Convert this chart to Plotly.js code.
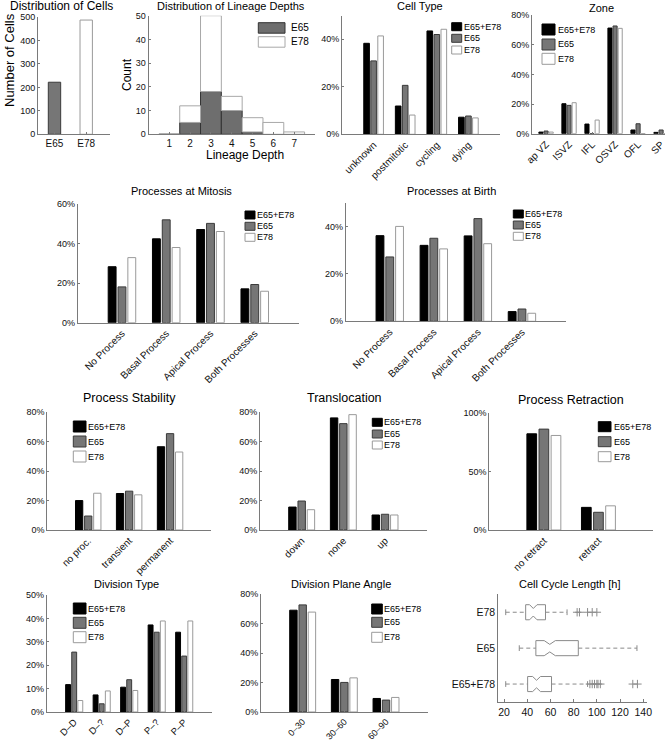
<!DOCTYPE html>
<html><head><meta charset="utf-8">
<script src="https://cdn.plot.ly/plotly-3.0.1.min.js"></script>
<style>html,body{margin:0;padding:0;background:#fff}#chart{width:667px;height:743px}</style>
</head><body><div id="chart"></div>
<script>
// ---------------- DATA ----------------
const seriesNames = ['E65+E78', 'E65', 'E78'];

const cellGroups = ['E65', 'E78'];
const cellCounts = [222, 487];

const depthBins = [1, 2, 3, 4, 5, 6, 7];
const depthE65 = [0, 5, 18, 10, 1, 0, 0];
const depthE78 = [0, 7, 32, 6, 6, 5, 1];

const cellTypeCats = ['unknown', 'postmitotic', 'cycling', 'dying'];
const cellTypeAll = [38.3, 11.9, 43.5, 7.2];
const cellTypeE65 = [30.9, 20.6, 42.0, 7.7];
const cellTypeE78 = [41.4, 8.1, 44.2, 6.9];

const zoneCats = ['ap VZ', 'ISVZ', 'IFL', 'OSVZ', 'OFL', 'SP'];
const zoneAll = [1.1, 20.2, 6.5, 71.2, 2.5, 0.9];
const zoneE65 = [1.8, 19.1, 0, 72.6, 6.7, 2.5];
const zoneE78 = [1.1, 20.9, 9.2, 71.0, 0, 0];

const mitosisCats = ['No Process', 'Basal Process', 'Apical Process', 'Both Processes'];
const mitosisAll = [28.3, 42.4, 47.1, 17.1];
const mitosisE65 = [18.1, 52.0, 50.2, 19.3];
const mitosisE78 = [32.9, 38.0, 46.1, 15.9];

const birthCats = ['No Process', 'Basal Process', 'Apical Process', 'Both Processes'];
const birthAll = [36.2, 32.1, 36.1, 4.1];
const birthE65 = [27.2, 35.1, 43.4, 5.2];
const birthE78 = [40.1, 30.6, 32.8, 3.4];

const stabilityCats = ['no proc.', 'transient', 'permanent'];
const stabilityAll = [20.0, 24.8, 56.6];
const stabilityE65 = [9.5, 26.4, 65.5];
const stabilityE78 = [25.0, 23.9, 53.0];

const translocCats = ['down', 'none', 'up'];
const translocAll = [15.6, 76.2, 10.2];
const translocE65 = [19.7, 72.3, 10.7];
const translocE78 = [13.8, 78.4, 10.2];

const retractCats = ['no retract', 'retract'];
const retractAll = [82.0, 19.3];
const retractE65 = [86.0, 15.1];
const retractE78 = [80.6, 20.6];

const divTypeCats = ['D\u2013D', 'D\u2013?', 'D\u2013P', 'P\u2013?', 'P\u2013P'];
const divTypeAll = [11.7, 7.3, 10.6, 37.2, 34.1];
const divTypeE65 = [25.6, 3.5, 13.8, 34.1, 23.9];
const divTypeE78 = [4.9, 9.0, 9.2, 38.9, 38.9];

const planeCats = ['0\u201330', '30\u201360', '60\u201390'];
const planeAll = [69.2, 22.1, 9.2];
const planeE65 = [72.8, 20.1, 8.1];
const planeE78 = [67.9, 23.2, 9.9];

// cell cycle box plot, bottom to top
const cycleGroups = ['E65+E78', 'E65', 'E78'];
const cycleLowWhisker = [21.4, 33.1, 21.4];
const cycleQ1 = [40.3, 47.4, 38.6];
const cycleMedian = [48.0, 59.4, 45.2];
const cycleQ3 = [60.9, 84.0, 55.7];
const cycleHighWhisker = [92.0, 134.6, 74.3];
const cycleNotchLow = [44.6, 54.6, 42.0];
const cycleNotchHigh = [51.4, 64.2, 48.4];
const cycleOutliers = [[94, 96, 98, 100, 101, 103, 131, 135], [], [83, 85, 92, 96, 100]];

// ---------------- LAYOUT HELPERS ----------------
const W = 667, H = 743;
const fx = p => p / W, fy = p => 1 - p / H;
const FONT = 'Liberation Sans, Arial, Helvetica, sans-serif';
const AX = '#7a7a7a';
const FILL = ['#000000', '#767676', '#ffffff'];
const EDGE = ['#000000', '#3a3a3a', '#9a9a9a'];
const BW = 0.178, OFFS = [-0.222, 0, 0.222];

const traces = [];
const layout = {
  width: W, height: H, margin: {l: 0, r: 0, t: 0, b: 0},
  barmode: 'overlay', showlegend: false, hovermode: false,
  paper_bgcolor: '#fff', plot_bgcolor: 'rgba(0,0,0,0)',
  font: {family: FONT, size: 9, color: '#111'},
  annotations: [], shapes: []
};
let axN = 0;
function addAxes(dom, xopt, yopt) {
  axN++;
  const xs = axN === 1 ? 'xaxis' : 'xaxis' + axN, ys = axN === 1 ? 'yaxis' : 'yaxis' + axN;
  const xr = axN === 1 ? 'x' : 'x' + axN, yr = axN === 1 ? 'y' : 'y' + axN;
  const base = {showline: true, linecolor: AX, linewidth: 1, ticks: 'inside', ticklen: 2,
    tickcolor: AX, showgrid: false, zeroline: false, fixedrange: true, tickfont: {size: 9, color: '#111'}};
  layout[xs] = Object.assign({}, base, {domain: [fx(dom.x[0]), fx(dom.x[1])], anchor: yr}, xopt);
  layout[ys] = Object.assign({}, base, {domain: [fy(dom.y[1]), fy(dom.y[0])], anchor: xr}, yopt);
  return {x: xr, y: yr};
}
function label(text, cx, cy, size, angle) {
  layout.annotations.push({xref: 'paper', yref: 'paper', x: fx(cx), y: fy(cy), text: text,
    showarrow: false, xanchor: 'center', yanchor: 'middle', textangle: angle || 0,
    font: {size: size || 11, color: '#000'}});
}
function legend(l, names, fills, edges) {
  names.forEach((name, s) => {
    layout.shapes.push({type: 'rect', xref: 'paper', yref: 'paper', x0: fx(l.x0), x1: fx(l.x1),
      y0: fy(l.tops[s] + l.h), y1: fy(l.tops[s]), fillcolor: fills[s], line: {color: edges[s], width: 1}});
    layout.annotations.push({xref: 'paper', yref: 'paper', x: fx(l.tx), y: fy(l.tops[s] + l.h / 2),
      xanchor: 'left', yanchor: 'middle', text: name, showarrow: false, borderpad: 0,
      font: {size: l.size || 9, color: '#000'}});
  });
}
function grouped(dom, cats, series, yRange, yTicks, tl, lg, opt) {
  opt = opt || {};
  const xs = cats.map((c, i) => i + 1);
  const ax = addAxes(dom,
    {range: opt.xRange || [0, cats.length + 1], tickvals: xs, ticktext: cats, tickangle: -45,
     tickfont: {size: opt.tickSize || 10, color: '#111'}},
    {range: yRange, tickvals: yTicks, ticktext: yTicks.map(v => v + '%')});
  series.forEach((vals, s) => {
    traces.push({type: 'bar', x: xs, y: vals, xaxis: ax.x, yaxis: ax.y, width: BW,
      offset: OFFS[s] - BW / 2, name: seriesNames[s],
      marker: {color: FILL[s], line: {color: EDGE[s], width: 1}}});
  });
  label(tl.text, tl.cx, tl.cy, tl.size);
  legend(lg, seriesNames, FILL, EDGE);
}

// ---------------- PANELS ----------------
// Distribution of Cells
(function () {
  const xs = cellGroups.map((c, i) => i + 1);
  const ax = addAxes({x: [38, 110], y: [17, 134.3]},
    {range: [0.48, 2.75], tickvals: xs, ticktext: cellGroups, tickfont: {size: 10, color: '#111'}},
    {range: [0, 500], tickvals: [0, 100, 200, 300, 400, 500], tickfont: {size: 9, color: '#111'}});
  traces.push({type: 'bar', x: xs, y: cellCounts, xaxis: ax.x, yaxis: ax.y, width: 0.39,
    marker: {color: [FILL[1], FILL[2]], line: {color: [EDGE[1], EDGE[2]], width: 1}}});
  label('Distribution of Cells', 61, 6.5, 12);
  label('Number of Cells', 9, 60, 13, -90);
})();

// Distribution of Lineage Depths (stacked)
(function () {
  const ax = addAxes({x: [148.5, 315], y: [15.7, 134.3]},
    {range: [0, 8], tickvals: depthBins, tickfont: {size: 10, color: '#111'}},
    {range: [0, 50], tickvals: [0, 10, 20, 30, 40, 50], tickfont: {size: 9, color: '#111'}});
  traces.push({type: 'bar', x: depthBins, y: depthE65, xaxis: ax.x, yaxis: ax.y, width: 1, name: 'E65',
    marker: {color: '#6e6e6e', line: {color: '#333', width: 1}}});
  traces.push({type: 'bar', x: depthBins, y: depthE78, base: depthE65, xaxis: ax.x, yaxis: ax.y, width: 1, name: 'E78',
    marker: {color: '#fff', line: {color: '#a8a8a8', width: 1}}});
  label('Distribution of Lineage Depths', 231, 6, 11);
  label('Count', 127, 75, 12, -90);
  label('Lineage Depth', 245, 155, 12);
  legend({x0: 258.3, x1: 285, tops: [22.7, 36.7], h: 10.5, tx: 289.5, size: 10},
    ['E65', 'E78'], ['#6e6e6e', '#fff'], ['#333', '#a8a8a8']);
})();

grouped({x: [342, 500], y: [15.5, 134.3]}, cellTypeCats, [cellTypeAll, cellTypeE65, cellTypeE78],
  [0, 50], [0, 20, 40], {text: 'Cell Type', cx: 420, cy: 6},
  {x0: 451.7, x1: 461.7, tops: [22.7, 34.3, 46], h: 8, tx: 462.5});

grouped({x: [532, 665], y: [15, 133.7]}, zoneCats, [zoneAll, zoneE65, zoneE78],
  [0, 80], [0, 20, 40, 60, 80], {text: 'Zone', cx: 601, cy: 7.5},
  {x0: 542, x1: 555, tops: [24, 39, 53.3], h: 11, tx: 557}, {xRange: [0.39, 6.17]});

grouped({x: [77.7, 299], y: [204, 322.7]}, mitosisCats, [mitosisAll, mitosisE65, mitosisE78],
  [0, 60], [0, 20, 40, 60], {text: 'Processes at Mitosis', cx: 182, cy: 191},
  {x0: 245, x1: 255, tops: [211, 222.3, 233.3], h: 8, tx: 256});

grouped({x: [345.7, 566], y: [203, 321.3]}, birthCats, [birthAll, birthE65, birthE78],
  [0, 50], [0, 20, 40], {text: 'Processes at Birth', cx: 451, cy: 191},
  {x0: 513.3, x1: 523.3, tops: [210, 221, 232.3], h: 8, tx: 524});

grouped({x: [47.3, 211], y: [412.3, 530]}, stabilityCats, [stabilityAll, stabilityE65, stabilityE78],
  [0, 80], [0, 20, 40, 60, 80], {text: 'Process Stability', cx: 129, cy: 398, size: 12.5},
  {x0: 73.3, x1: 86, tops: [421, 436, 451], h: 11, tx: 87.3});

grouped({x: [260, 426.7], y: [412.3, 530]}, translocCats, [translocAll, translocE65, translocE78],
  [0, 80], [0, 20, 40, 60, 80], {text: 'Translocation', cx: 344, cy: 398, size: 12.5},
  {x0: 372.3, x1: 382.3, tops: [418.3, 430, 441], h: 8, tx: 383.3});

grouped({x: [489.3, 653], y: [412.7, 530]}, retractCats, [retractAll, retractE65, retractE78],
  [0, 100], [0, 50, 100], {text: 'Process Retraction', cx: 571, cy: 399.5, size: 12.5},
  {x0: 598.3, x1: 611, tops: [421.7, 436.7, 451.7], h: 10, tx: 612.7});

grouped({x: [46.7, 211.7], y: [595, 712]}, divTypeCats, [divTypeAll, divTypeE65, divTypeE78],
  [0, 50], [0, 10, 20, 30, 40, 50], {text: 'Division Type', cx: 126, cy: 584},
  {x0: 73.3, x1: 86, tops: [603, 617.3, 631.7], h: 11, tx: 87.3}, {tickSize: 9.5});

grouped({x: [261, 427.7], y: [594.3, 712]}, planeCats, [planeAll, planeE65, planeE78],
  [0, 80], [0, 20, 40, 60, 80], {text: 'Division Plane Angle', cx: 341, cy: 584},
  {x0: 371.7, x1: 382.3, tops: [604, 617.3, 632.3], h: 10, tx: 383.3}, {tickSize: 9});

// Cell Cycle Length box plot (notched, drawn from the statistics)
(function () {
  const ax = addAxes({x: [498.3, 646.7], y: [594.3, 702]},
    {range: [15, 143], tickvals: [20, 40, 60, 80, 100, 120, 140], tickfont: {size: 10.5, color: '#111'}, ticklen: 3},
    {range: [0.5, 3.5], tickvals: [1, 2, 3], ticktext: cycleGroups, ticks: '', tickfont: {size: 10.5, color: '#111'}});
  const BOX = '#8a8a8a', hh = 0.21, cap = 0.08;
  const bx = [], by = [], wx = [], wy = [], cx = [], cy = [], ox = [], oy = [];
  cycleGroups.forEach((g, i) => {
    const y = i + 1;
    const pts = [[cycleQ1[i], y - hh], [cycleNotchLow[i], y - hh], [cycleMedian[i], y - hh * 0.5],
      [cycleNotchHigh[i], y - hh], [cycleQ3[i], y - hh], [cycleQ3[i], y + hh], [cycleNotchHigh[i], y + hh],
      [cycleMedian[i], y + hh * 0.5], [cycleNotchLow[i], y + hh], [cycleQ1[i], y + hh], [cycleQ1[i], y - hh]];
    pts.forEach(p => { bx.push(p[0]); by.push(p[1]); });
    bx.push(null); by.push(null);
    wx.push(cycleLowWhisker[i], cycleQ1[i], null, cycleQ3[i], cycleHighWhisker[i], null);
    wy.push(y, y, null, y, y, null);
    cx.push(cycleLowWhisker[i], cycleLowWhisker[i], null, cycleHighWhisker[i], cycleHighWhisker[i], null);
    cy.push(y - cap, y + cap, null, y - cap, y + cap, null);
    cycleOutliers[i].forEach(v => { ox.push(v); oy.push(y); });
  });
  traces.push({type: 'scatter', mode: 'lines', x: wx, y: wy, xaxis: ax.x, yaxis: ax.y,
    line: {color: BOX, width: 1, dash: '4px,3px'}});
  traces.push({type: 'scatter', mode: 'lines', x: cx, y: cy, xaxis: ax.x, yaxis: ax.y,
    line: {color: BOX, width: 1}});
  traces.push({type: 'scatter', mode: 'lines', x: bx, y: by, xaxis: ax.x, yaxis: ax.y,
    line: {color: BOX, width: 1}});
  traces.push({type: 'scatter', mode: 'markers', x: ox, y: oy, xaxis: ax.x, yaxis: ax.y,
    marker: {symbol: 'cross-thin-open', size: 6, color: BOX, line: {color: BOX, width: 1}}});
  label('Cell Cycle Length [h]', 569.5, 584, 11);
})();

Plotly.newPlot('chart', traces, layout, {displayModeBar: false, staticPlot: true});
</script></body></html>
